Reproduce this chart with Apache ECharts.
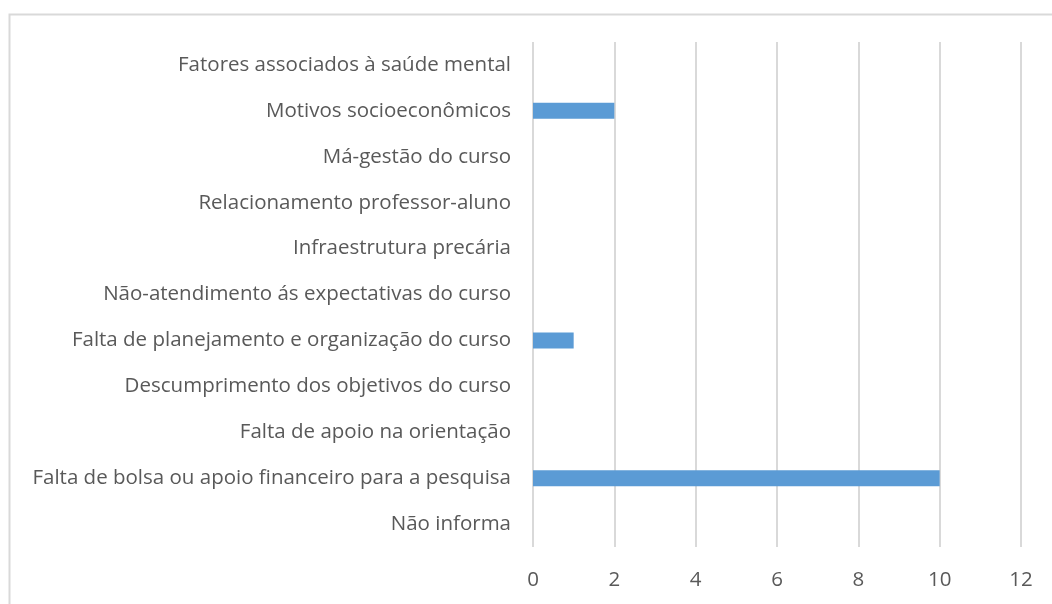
<!DOCTYPE html>
<html>
<head>
<meta charset="utf-8">
<script src="https://cdn.jsdelivr.net/npm/echarts@6/dist/echarts.min.js"></script>
<style>
  html, body { margin: 0; padding: 0; background: #ffffff; }
  #chart { width: 1052px; height: 604px; }
</style>
</head>
<body>
<div id="chart"></div>
<script>
// Reasons, listed bottom to top as they appear on the vertical axis
const categories = [
  'Não informa',
  'Falta de bolsa ou apoio financeiro para a pesquisa',
  'Falta de apoio na orientação',
  'Descumprimento dos objetivos do curso',
  'Falta de planejamento e organização do curso',
  'Não-atendimento ás expectativas do curso',
  'Infraestrutura precária',
  'Relacionamento professor-aluno',
  'Má-gestão do curso',
  'Motivos socioeconômicos',
  'Fatores associados à saúde mental'
];
const counts = [0, 10, 0, 0, 1, 0, 0, 0, 0, 2, 0];
const xTicks = [0, 2, 4, 6, 8, 10, 12];

const textColor = '#595959';
const fontFamily = '"Open Sans", sans-serif';

const chart = echarts.init(document.getElementById('chart'), null, { renderer: 'canvas' });
chart.setOption({
  animation: false,
  backgroundColor: '#ffffff',
  graphic: [{
    type: 'rect',
    left: 7, top: 12,
    shape: { width: 1080, height: 700 },
    style: { fill: 'none', stroke: '#d9d9d9', lineWidth: 2 },
    silent: true
  }],
  grid: { left: 533, right: 31, top: 42, bottom: 57, containLabel: false },
  xAxis: {
    type: 'value',
    min: xTicks[0],
    max: xTicks[xTicks.length - 1],
    interval: 2,
    axisLine: { show: false },
    axisTick: { show: false },
    splitLine: { show: true, lineStyle: { color: '#d9d9d9', width: 2 } },
    axisLabel: { color: textColor, fontSize: 20.5, fontFamily: fontFamily, margin: 23 }
  },
  yAxis: {
    type: 'category',
    data: categories,
    axisLine: { show: false },
    axisTick: { show: false },
    splitLine: { show: false },
    axisLabel: { color: textColor, fontSize: 20.5, fontFamily: fontFamily, margin: 22, padding: [3, 0, 0, 0] }
  },
  series: [{
    type: 'bar',
    data: counts,
    barWidth: 16,
    itemStyle: { color: '#5b9bd5' }
  }]
});
</script>
</body>
</html>
